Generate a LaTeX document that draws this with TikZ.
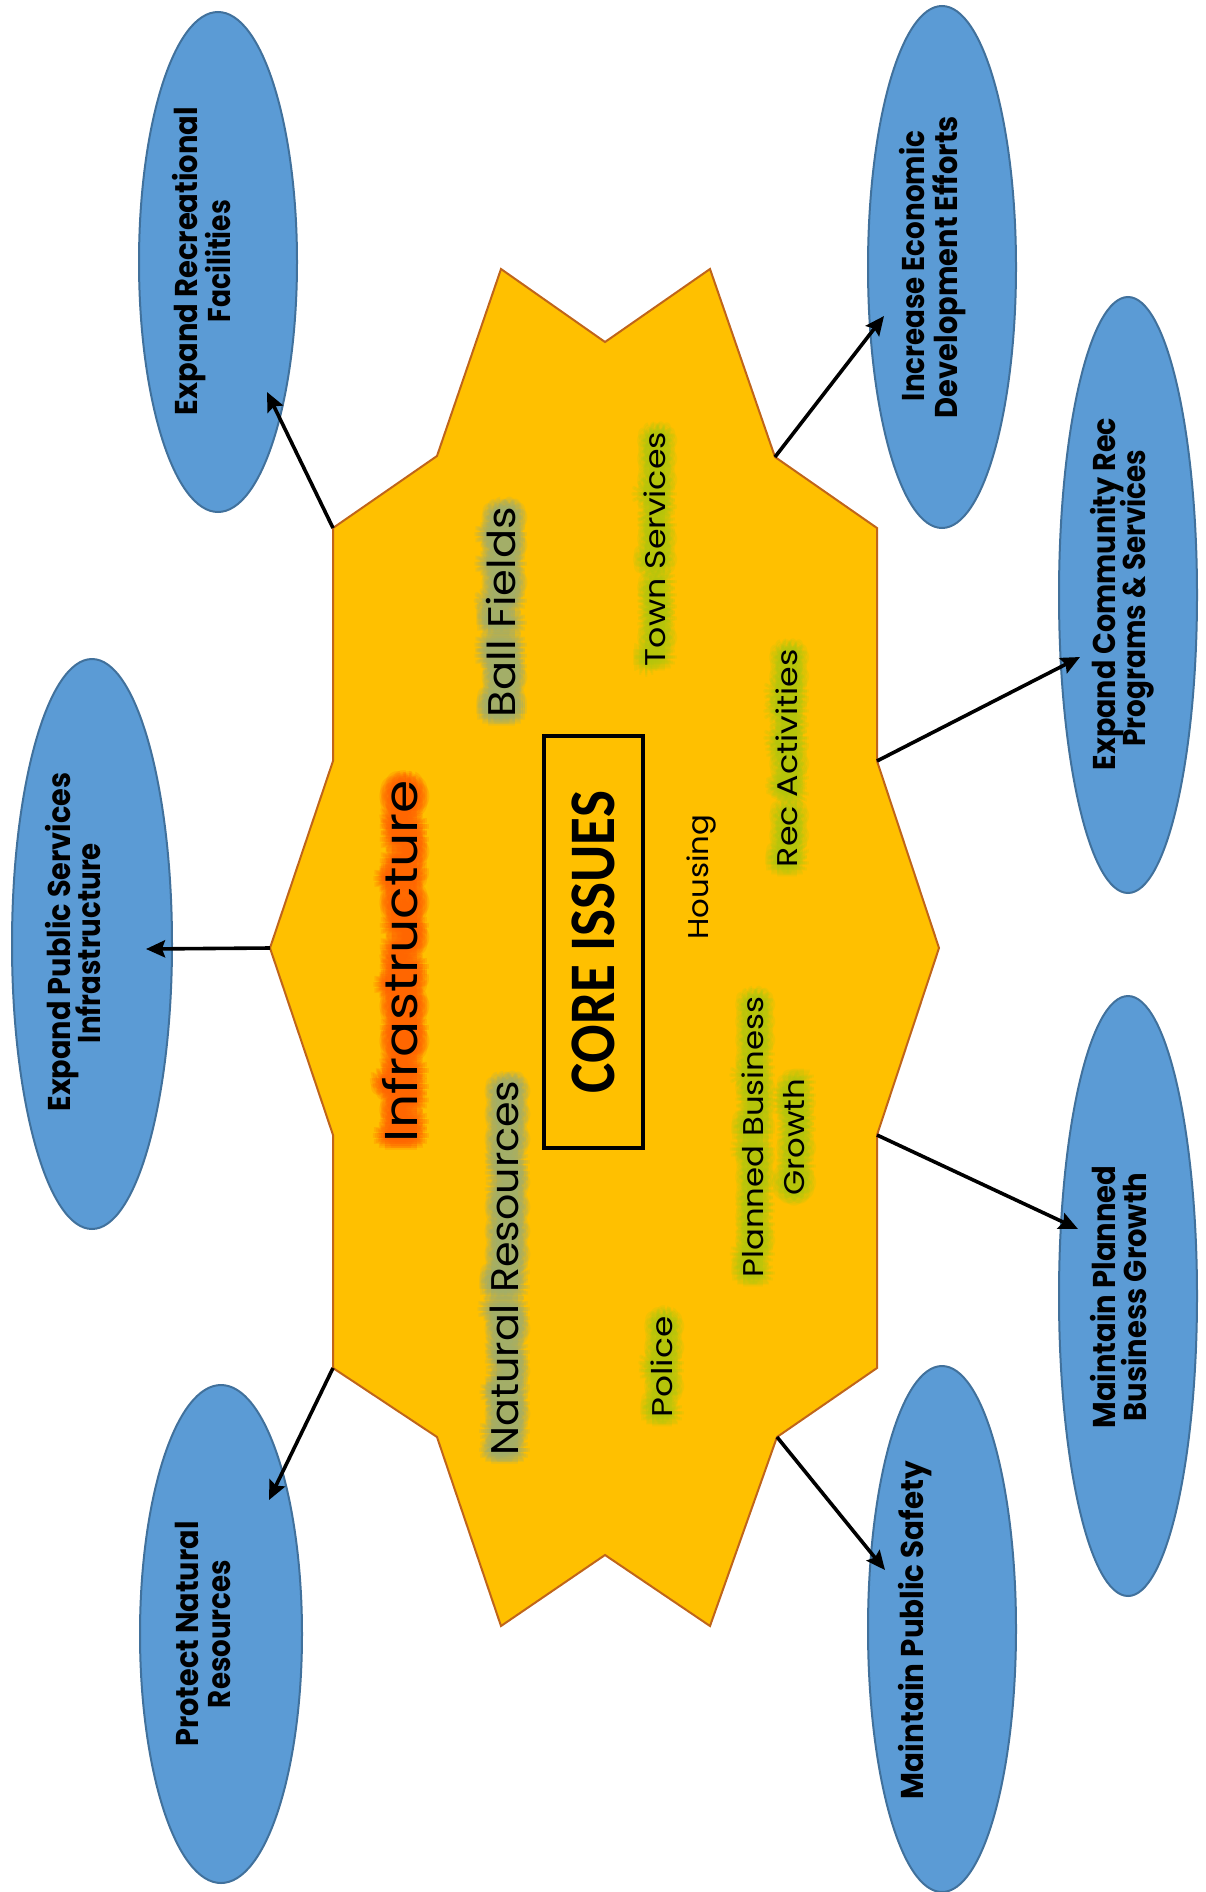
\documentclass[tikz,border=0pt]{standalone}
\usepackage{fontspec}
\usepackage{graphicx}
\usetikzlibrary{shapes.geometric,arrows.meta,calc}
\newfontfamily\gothic{Poppins}
\newfontfamily\ellfont{Poppins}
\newfontfamily\corefont{Carlito}
\definecolor{starfill}{HTML}{FFC000}
\definecolor{starline}{HTML}{C0651A}
\definecolor{ellfill}{HTML}{5B9BD5}
\definecolor{ellline}{HTML}{41719C}
\definecolor{glowolive}{HTML}{A3AE6C}
\definecolor{glowlime}{HTML}{B5C80E}
\definecolor{gloworange}{HTML}{FF6600}
\newcommand\fitw[2]{\resizebox{#1pt}{\height}{#2}}
\newcommand\fsmall{\gothic\fontsize{28.5}{40}\selectfont}
\newcommand\fmid{\gothic\fontsize{38.5}{44}\selectfont}
\newcommand\fbig{\gothic\fontsize{46}{52}\selectfont}
\newcommand\fell{\ellfont\bfseries\fontsize{31.5}{35}\selectfont}
\newcommand\fcore{\corefont\bfseries\fontsize{65}{70}\selectfont}
% #1 name, #2 x, #3 y, #4 glow colour, #5 font, #6 text
\newcommand\glowlabel[6]{%
  \foreach \ga in {0,30,...,330}{\foreach \gr in {2,4,6,8,10,12}{%
    \node[lbl, text=#4, text opacity=0.2, font=#5] (#1g\ga-\gr) at ($(#2,#3)+(\ga:\gr)$) {#6};
  }}%
  \node[lbl, font=#5] (#1) at (#2,#3) {#6};
}
\begin{document}
\begin{tikzpicture}[x=1pt,y=-1pt,
  lbl/.style={rotate=90, anchor=base, inner sep=0pt},
  ell/.style={ellipse, draw=ellline, fill=ellfill, line width=2pt, inner sep=0pt},
  startshape/.style={fill=starfill, draw=starline, line width=2pt, line join=miter},
  conn/.style={line width=3.6pt, -{Stealth[length=19pt,width=17pt,inset=3pt]}},
  corebox/.style={rotate=90, draw=black, line width=3.5pt, inner sep=0pt,
    minimum width=412pt, minimum height=99pt, font=\fcore}]
\path[use as bounding box] (0,0) rectangle (1206,1892);

% star vertices
\coordinate (v1) at (333,528);
\coordinate (v2) at (437,456);
\coordinate (v3) at (501,269);
\coordinate (v4) at (605,342);
\coordinate (v5) at (710,269);
\coordinate (v6) at (775,457);
\coordinate (v7) at (877,528);
\coordinate (v8) at (877,761);
\coordinate (v9) at (939,948);
\coordinate (v10) at (877,1135);
\coordinate (v11) at (877,1368);
\coordinate (v12) at (777,1437);
\coordinate (v13) at (710,1626);
\coordinate (v14) at (605,1555);
\coordinate (v15) at (501,1626);
\coordinate (v16) at (437,1437);
\coordinate (v17) at (333,1368);
\coordinate (v18) at (333,1135);
\coordinate (v19) at (270,948);
\coordinate (v20) at (333,761);

\draw[startshape] (v1) -- (v2) -- (v3) -- (v4) -- (v5) -- (v6) -- (v7) -- (v8) -- (v9) -- (v10)
  -- (v11) -- (v12) -- (v13) -- (v14) -- (v15) -- (v16) -- (v17) -- (v18) -- (v19) -- (v20) -- cycle;

% inner labels
\glowlabel{infra}{417}{961}{gloworange}{\fbig}{\fitw{362}{Infrastructure}}
\glowlabel{ball}{515}{612}{glowolive}{\fmid}{\fitw{210}{Ball Fields}}
\glowlabel{natres}{518}{1268}{glowolive}{\fmid}{\fitw{375}{Natural Resources}}
\glowlabel{town}{665}{549}{glowlime}{\fsmall}{\fitw{234}{Town Services}}
\glowlabel{rec}{797}{758}{glowlime}{\fsmall}{\fitw{218}{Rec Activities}}
\glowlabel{planA}{763}{1137}{glowlime}{\fsmall}{\fitw{281}{Planned Business}}
\glowlabel{planB}{804}{1137}{glowlime}{\fsmall}{\fitw{117}{Growth}}
\glowlabel{police}{672}{1367}{glowlime}{\fsmall}{\fitw{101}{Police}}
\node[lbl, font=\fsmall] (housing) at (708,877) {\fitw{125}{Housing}};
\node[corebox] (core) at (593.5,942) {\fitw{302}{CORE ISSUES}};

% ellipses
\node[ell, minimum width=158pt, minimum height=500pt] (e1) at (218,262) {};
\node[ell, minimum width=148pt, minimum height=522pt] (e2) at (942,267) {};
\node[ell, minimum width=160pt, minimum height=570pt] (e3) at (92,944) {};
\node[ell, minimum width=138pt, minimum height=596pt] (e4) at (1128,595) {};
\node[ell, minimum width=138pt, minimum height=600pt] (e5) at (1128,1296) {};
\node[ell, minimum width=162pt, minimum height=498pt] (e6) at (221,1634) {};
\node[ell, minimum width=148pt, minimum height=526pt] (e7) at (942,1629) {};

% ellipse texts
\node[lbl, font=\fell] (e1a) at (197,261) {\fitw{308}{Expand Recreational}};
\node[lbl, font=\fell] (e1b) at (230,261) {\fitw{122}{Facilities}};
\node[lbl, font=\fell] (e2a) at (924,266) {\fitw{270}{Increase Economic}};
\node[lbl, font=\fell] (e2b) at (957,267) {\fitw{302}{Development Efforts}};
\node[lbl, font=\fell] (e3a) at (70,942) {\fitw{339}{Expand Public Services}};
\node[lbl, font=\fell] (e3b) at (100,943) {\fitw{200}{Infrastructure}};
\node[lbl, font=\fell] (e4a) at (1115,594) {\fitw{352}{Expand Community Rec}};
\node[lbl, font=\fell] (e4b) at (1145,598) {\fitw{297}{Programs \& Services}};
\node[lbl, font=\fell] (e5a) at (1115,1297) {\fitw{263}{Maintain Planned}};
\node[lbl, font=\fell] (e5b) at (1146,1297) {\fitw{249}{Business Growth}};
\node[lbl, font=\fell] (e6a) at (198,1634) {\fitw{225}{Protect Natural}};
\node[lbl, font=\fell] (e6b) at (230,1634) {\fitw{148}{Resources}};
\node[lbl, font=\fell] (e7a) at (923,1630) {\fitw{338}{Maintain Public Safety}};

% arrow ends
\coordinate (t1) at (267,392);
\coordinate (t2) at (884,316);
\coordinate (t3) at (146,949);
\coordinate (t4) at (1080,657);
\coordinate (t5) at (1078,1229);
\coordinate (t6) at (269,1500);
\coordinate (t7) at (885,1570);

\draw[conn] (v1) -- (t1);
\draw[conn] (v6) -- (t2);
\draw[conn] (v19) -- (t3);
\draw[conn] (v8) -- (t4);
\draw[conn] (v10) -- (t5);
\draw[conn] (v17) -- (t6);
\draw[conn] (v12) -- (t7);
\end{tikzpicture}
\end{document}
